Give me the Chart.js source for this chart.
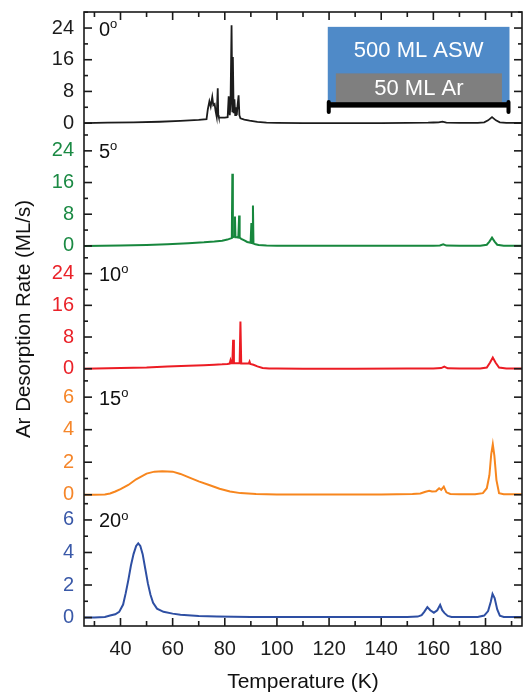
<!DOCTYPE html>
<html>
<head>
<meta charset="utf-8">
<script src="https://cdn.jsdelivr.net/npm/chart.js@4.4.1/dist/chart.umd.min.js"></script>
<style>
  html, body { margin: 0; padding: 0; background: #fff; }
  #wrap { width: 524px; height: 693px; }
</style>
</head>
<body>
<div id="wrap"><canvas id="chartDesorption"></canvas></div>
<script>
// Ar TPD traces, one panel per deposition angle
var angleLabels = ['0', '5', '10', '15', '20'];

var t0 = [26, 35, 45, 55, 63, 70, 73, 73.5, 74.1, 74.6, 75.2, 75.6, 76.1, 76.5, 76.9, 77.3, 77.5, 77.7, 78.1, 80,
          81.1, 81.5, 81.9, 82.2, 82.6, 82.9, 83.1, 83.4, 83.7, 84, 84.3, 84.6, 84.9, 85.3, 85.6, 86, 87.5, 89.5, 92.5, 96,
          100, 110, 120, 130, 140, 150, 158, 160, 162, 163.5, 165, 170, 177, 179.5, 181, 182.5, 184, 185.5, 188, 194];
var r0 = [0, 0.1, 0.2, 0.35, 0.55, 0.8, 1.0, 3.5, 5.5, 4.2, 6.6, 4.5, 4.8, 3.0, 1.6, 8.8, 2.0, 1.5, 1.4, 1.4,
          1.5, 6.8, 2.0, 5.0, 24.7, 3.0, 16.7, 2.5, 6.0, 2.0, 4.0, 2.0, 4.5, 7.0, 2.0, 1.2, 0.9, 0.6, 0.3, 0.1,
          0.05, 0.02, 0, 0, 0, 0.05, 0.1, 0.15, 0.2, 0.35, 0.1, 0.05, 0.05, 0.2, 0.7, 1.5, 0.7, 0.2, 0.05, 0.05];

var t5 = [26, 40, 50, 58, 66, 72, 76, 79, 81, 82.3, 82.7, 82.9, 83.1, 83.4, 83.7, 83.9, 84.1, 84.5, 85.2, 85.5,
          85.7, 85.9, 86.3, 87.5, 88.6, 89.9, 90.2, 90.4, 90.6, 90.8, 91.0, 91.3, 91.7, 93, 96, 100, 110, 130, 150, 160,
          162.5, 163.8, 165, 170, 178, 180.5, 181.5, 182.5, 183.5, 184.5, 187, 194];
var r5 = [0, 0.1, 0.25, 0.45, 0.7, 0.9, 1.1, 1.3, 1.6, 1.9, 2.0, 18.2, 2.2, 2.3, 2.3, 7.4, 2.2, 2.2, 2.1, 7.7,
          2.1, 2.0, 1.8, 1.4, 1.0, 0.8, 5.8, 0.8, 0.7, 10.2, 0.6, 0.5, 0.4, 0.25, 0.12, 0.06, 0.03, 0.02, 0.03, 0.06,
          0.1, 0.4, 0.08, 0.05, 0.05, 0.3, 1.1, 2.1, 1.1, 0.3, 0.06, 0.05];

var t10 = [26, 40, 50, 58, 66, 72, 76, 79, 81, 81.9, 82.2, 82.5, 82.9, 83.2, 83.5, 84, 85, 85.7, 86, 86.3,
           87, 88, 89.2, 89.5, 89.8, 91, 92.5, 94.5, 97, 100, 110, 130, 150, 160, 163, 164.2, 165.5, 170, 178, 180.5,
           181.7, 182.8, 183.9, 185.2, 188, 194];
var r10 = [0, 0.15, 0.3, 0.55, 0.75, 0.9, 1.0, 1.1, 1.2, 1.3, 2.1, 1.4, 1.4, 7.3, 1.4, 1.4, 1.4, 1.4, 11.9, 1.3,
           1.3, 1.3, 1.3, 1.8, 1.2, 1.0, 0.6, 0.2, 0.08, 0.04, 0.02, 0.02, 0.03, 0.05, 0.15, 0.55, 0.1, 0.05, 0.05, 0.3,
           1.5, 2.8, 1.5, 0.3, 0.05, 0.05];

var t15 = [26, 30, 34, 36, 38, 40, 43, 46, 50, 53, 56, 60, 63, 66, 70, 74, 78, 82, 86, 92,
           100, 120, 140, 152, 155, 157, 158.4, 159.5, 161, 162.2, 163, 164, 165, 166.5, 170, 176, 179, 180.5, 181.5, 182.2,
           182.8, 183.4, 184.2, 185.2, 187, 194];
var r15 = [0, 0, 0.02, 0.08, 0.2, 0.35, 0.6, 0.95, 1.3, 1.42, 1.45, 1.42, 1.28, 1.08, 0.82, 0.6, 0.37, 0.2, 0.1, 0.04,
           0.02, 0.02, 0.02, 0.04, 0.08, 0.18, 0.25, 0.2, 0.22, 0.4, 0.3, 0.5, 0.15, 0.05, 0.03, 0.03, 0.1, 0.4, 1.2, 2.5,
           3.1, 2.4, 0.9, 0.1, 0.03, 0.03];

var t20 = [26, 30, 34, 36, 38, 39.5, 41, 42, 43, 44, 45, 46, 46.8, 47.6, 48.5, 49.5, 50.5, 51.5, 52.5, 54,
           56.5, 60, 63, 70, 77, 90, 110, 130, 150, 154, 155.5, 156.5, 157.7, 158.8, 160.2, 161.5, 162.6, 163.4, 164.3, 165.5,
           167, 172, 177, 179.5, 181, 182, 182.7, 183.5, 184.5, 185.5, 187, 194];
var r20 = [0, 0, 0.03, 0.12, 0.2, 0.35, 0.8, 1.5, 2.3, 3.2, 3.9, 4.4, 4.56, 4.4, 3.9, 3.0, 2.1, 1.4, 0.9, 0.55,
           0.35, 0.24, 0.17, 0.1, 0.07, 0.04, 0.03, 0.03, 0.03, 0.06, 0.15, 0.35, 0.64, 0.45, 0.3, 0.45, 0.78, 0.45, 0.27, 0.1,
           0.04, 0.03, 0.04, 0.12, 0.4, 0.95, 1.45, 1.2, 0.5, 0.12, 0.04, 0.03];

var temps = [t0, t5, t10, t15, t20];
var rates = [r0, r5, r10, r15, r20];

// y tick labels per panel
var tickLabelsBig = [0, 8, 16, 24];
var tickLabelsSmall = [0, 2, 4, 6];
var insetLabels = ['500 ML ASW', '50 ML Ar'];

var panelIds = ['y0', 'y1', 'y2', 'y3', 'y4'];
var panelColors = ['#1c1c1c', '#17873d', '#ec1c24', '#f7861e', '#2e4fa3'];
var labelColors = ['#1c1c1c', '#1b8a44', '#ea2229', '#f5862a', '#3a59a8'];
var majorSteps = [8, 8, 8, 2, 2];
var panelMin = [-2.95, -2.95, -2.95, -0.52, -0.52];
var panelMax = [28.05, 28.05, 28.05, 7.03, 7.03];

var FONT = "'Liberation Sans', Arial, Helvetica, sans-serif";

function strokeLine(ctx, x1, y1, x2, y2) {
  ctx.beginPath();
  ctx.moveTo(x1, y1);
  ctx.lineTo(x2, y2);
  ctx.stroke();
}

// frame, inward ticks, panel labels, y title, inset
var panelDecor = {
  id: 'panelDecor',
  afterDatasetsDraw: function (chart) {
    var ctx = chart.ctx;
    var area = chart.chartArea;
    var xs = chart.scales.x;
    ctx.save();
    ctx.strokeStyle = '#1a1a1a';
    ctx.lineWidth = 1.6;
    ctx.strokeRect(area.left, area.top, area.right - area.left, area.bottom - area.top);

    for (var t = 30; t <= 190; t += 10) {
      var px = xs.getPixelForValue(t);
      var len = t % 20 === 0 ? 8 : 5;
      strokeLine(ctx, px, area.bottom, px, area.bottom - len);
      strokeLine(ctx, px, area.top, px, area.top + len);
    }

    panelIds.forEach(function (id, i) {
      var ys = chart.scales[id];
      var minor = majorSteps[i] / 2;
      for (var v = Math.ceil(ys.min / minor) * minor; v <= ys.max + 1e-9; v += minor) {
        var py = ys.getPixelForValue(v);
        var l = (Math.abs(v % majorSteps[i]) < 1e-9) ? 8 : 4;
        strokeLine(ctx, area.left, py, area.left + l, py);
        strokeLine(ctx, area.right, py, area.right - l, py);
      }
      // angle label at top major tick
      var topVal = (majorSteps[i] === 8) ? 24 : 6;
      var ly = ys.getPixelForValue(topVal) + 2;
      ctx.fillStyle = '#111';
      ctx.textBaseline = 'middle';
      ctx.textAlign = 'left';
      ctx.font = '20px ' + FONT;
      var lx = area.left + 15;
      ctx.fillText(angleLabels[i], lx, ly);
      var w = ctx.measureText(angleLabels[i]).width;
      ctx.font = '13px ' + FONT;
      ctx.fillText('o', lx + w, ly - 6);
    });

    // y title
    ctx.save();
    ctx.translate(24, (area.top + area.bottom) / 2);
    ctx.rotate(-Math.PI / 2);
    ctx.font = '20.5px ' + FONT;
    ctx.fillStyle = '#111';
    ctx.textAlign = 'center';
    ctx.textBaseline = 'middle';
    ctx.fillText('Ar Desorption Rate (ML/s)', 0, 0);
    ctx.restore();

    // inset sketch of the ice film
    var y0 = chart.scales.y0;
    var bx1 = xs.getPixelForValue(119.5), bx2 = xs.getPixelForValue(189.2);
    var gx1 = xs.getPixelForValue(122.6), gx2 = xs.getPixelForValue(186.3);
    var btop = y0.getPixelForValue(24.3), bbot = y0.getPixelForValue(5.3);
    var gtop = y0.getPixelForValue(12.55);
    ctx.fillStyle = '#4f8ac8';
    ctx.fillRect(bx1, btop, bx2 - bx1, bbot - btop);
    ctx.fillStyle = '#7f7f7f';
    ctx.fillRect(gx1, gtop, gx2 - gx1, bbot - gtop);
    ctx.fillStyle = '#000';
    ctx.fillRect(bx1, bbot, bx2 - bx1, 5.5);
    ctx.lineCap = 'round';
    ctx.lineWidth = 4;
    ctx.strokeStyle = '#000';
    strokeLine(ctx, bx1 + 1, bbot, bx1 + 1, bbot + 10);
    strokeLine(ctx, bx2 - 1, bbot, bx2 - 1, bbot + 10);
    ctx.fillStyle = '#fff';
    ctx.font = '22px ' + FONT;
    ctx.textAlign = 'center';
    ctx.textBaseline = 'middle';
    ctx.fillText(insetLabels[0], (bx1 + bx2) / 2, (btop + gtop) / 2 + 1);
    ctx.fillText(insetLabels[1], (gx1 + gx2) / 2, (gtop + bbot) / 2 + 1);
    ctx.restore();
  }
};

var datasets = temps.map(function (ts, i) {
  return {
    label: angleLabels[i] + '\u00b0',
    data: ts.map(function (t, k) { return {x: t, y: rates[i][k]}; }),
    yAxisID: panelIds[i],
    borderColor: panelColors[i],
    backgroundColor: 'transparent',
    borderWidth: i === 0 ? 1.8 : 2,
    pointRadius: 0,
    tension: 0,
    fill: false
  };
});

var scales = {
  x: {
    type: 'linear',
    position: 'bottom',
    min: 26,
    max: 194,
    afterFit: function (scale) {
      scale.height = 67;
      scale.paddingLeft = 0;
      scale.paddingRight = 0;
    },
    grid: { display: false, drawTicks: false },
    border: { display: false },
    ticks: {
      stepSize: 20,
      includeBounds: false,
      color: '#1c1c1c',
      padding: 11,
      maxRotation: 0,
      font: { size: 20, family: FONT }
    },
    title: {
      display: true,
      text: 'Temperature (K)',
      color: '#111',
      padding: { top: 0, bottom: 0 },
      font: { size: 21, family: FONT, lineHeight: 1 }
    }
  }
};

// stacked left axes get placed bottom-up, so add the lowest panel first
panelIds.slice().reverse().forEach(function (id) {
  var i = panelIds.indexOf(id);
  var big = majorSteps[i] === 8;
  var shown = big ? tickLabelsBig : tickLabelsSmall;
  scales[id] = {
    type: 'linear',
    position: 'left',
    stack: 'panels',
    stackWeight: 1,
    min: panelMin[i],
    max: panelMax[i],
    afterFit: function (scale) {
      scale.width = 84;
      scale.paddingTop = 0;
      scale.paddingBottom = 0;
    },
    grid: { display: false, drawTicks: false },
    border: { display: false },
    ticks: {
      stepSize: majorSteps[i],
      includeBounds: false,
      autoSkip: false,
      color: labelColors[i],
      padding: 10,
      font: { size: 20, family: FONT },
      callback: function (value) {
        return shown.indexOf(value) >= 0 ? String(value) : '';
      }
    }
  };
});

new Chart(document.getElementById('chartDesorption').getContext('2d'), {
  type: 'line',
  data: { datasets: datasets },
  options: {
    responsive: true,
    maintainAspectRatio: false,
    animation: false,
    layout: { padding: { top: 12, right: 2, left: 0, bottom: 0 } },
    plugins: {
      legend: { display: false },
      tooltip: { enabled: false }
    },
    scales: scales
  },
  plugins: [panelDecor]
});
</script>
</body>
</html>
